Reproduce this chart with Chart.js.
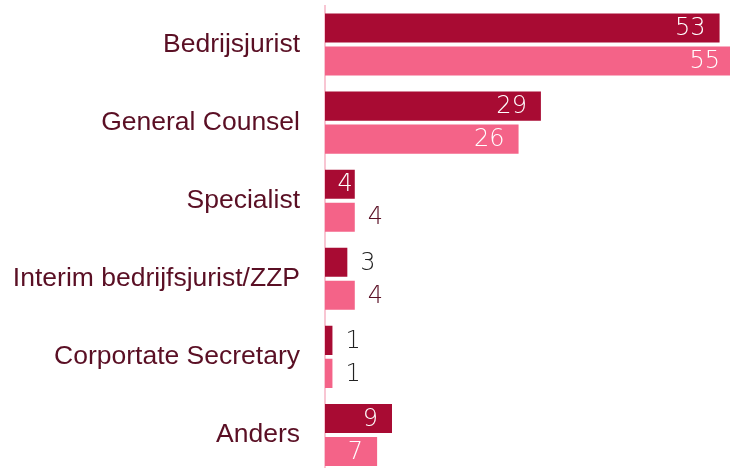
<!DOCTYPE html>
<html>
<head>
<meta charset="utf-8">
<script src="https://cdn.jsdelivr.net/npm/chart.js@4/dist/chart.umd.min.js"></script>
<style>
  html, body { margin: 0; padding: 0; background: #fff; overflow: hidden; }
</style>
</head>
<body>
<canvas id="barCanvas" width="730" height="474"></canvas>
<script>
const categories = ["Bedrijsjurist", "General Counsel", "Specialist", "Interim bedrijfsjurist/ZZP", "Corportate Secretary", "Anders"];
const seriesDark = [53, 29, 4, 3, 1, 9];
const seriesPink = [55, 26, 4, 4, 1, 7];

const darkColor = "#a80b33";
const pinkColor = "#f46388";
const labelColor = "#5a0f24";

// value labels: white inside the bar end, dark outside when the bar is short
const valueLabels = {
  id: "valueLabels",
  afterDatasetsDraw(chart) {
    const ctx = chart.ctx;
    const area = chart.chartArea;
    ctx.save();
    ctx.font = "200 24px 'DejaVu Sans'";
    ctx.textBaseline = "middle";
    chart.data.datasets.forEach((ds, i) => {
      const meta = chart.getDatasetMeta(i);
      meta.data.forEach((bar, j) => {
        const v = ds.data[j];
        const end = Math.min(bar.x, area.right + 4);
        if (v >= ds.insideFrom) {
          ctx.fillStyle = "#ffffff";
          ctx.textAlign = "right";
          const w = ctx.measureText(String(v)).width;
          const x = Math.max(end - 14, bar.base + w + 14);
          ctx.fillText(v, Math.min(x, end - 2), bar.y + 1);
        } else {
          ctx.fillStyle = v < 4 ? "#222222" : labelColor;
          ctx.textAlign = "left";
          ctx.fillText(v, end + 13, bar.y + 1);
        }
      });
    });
    ctx.restore();
  },
};

const barChart = new Chart(document.getElementById("barCanvas"), {
  type: "bar",
  data: {
    labels: categories,
    datasets: [
      {
        data: seriesDark,
        backgroundColor: darkColor,
        barPercentage: 0.88,
        categoryPercentage: 0.846,
        insideFrom: 4,
      },
      {
        data: seriesPink,
        backgroundColor: pinkColor,
        barPercentage: 0.88,
        categoryPercentage: 0.846,
        insideFrom: 7,
      },
    ],
  },
  options: {
    indexAxis: "y",
    responsive: false,
    animation: false,
    layout: {
      padding: { top: 5.5, right: 0, bottom: 0, left: 0 },
    },
    scales: {
      x: {
        display: false,
        min: 0,
        max: 54.4,
      },
      y: {
        grid: { display: false },
        border: { display: true, color: "#f8c6d3", width: 2 },
        ticks: {
          color: labelColor,
          padding: 17,
          font: { family: "'Liberation Sans', Arial, sans-serif", size: 26.5 },
        },
        afterFit(scale) {
          scale.width = 325;
          scale.paddingTop = 0;
          scale.paddingBottom = 0;
        },
      },
    },
    plugins: {
      legend: { display: false },
      tooltip: { enabled: false },
    },
  },
  plugins: [valueLabels],
});
</script>
</body>
</html>
